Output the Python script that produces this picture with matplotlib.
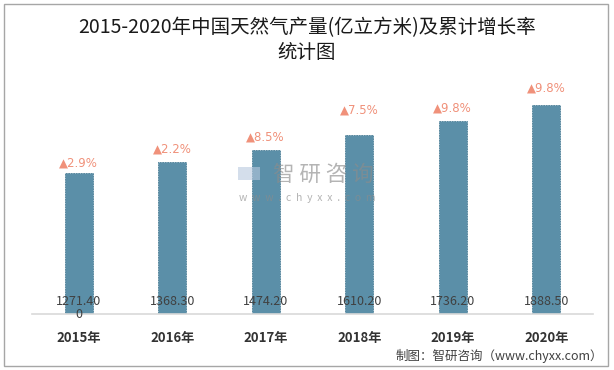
import matplotlib
matplotlib.use("Agg")
import matplotlib.pyplot as plt
from matplotlib.patches import Rectangle

plt.rcParams['font.family'] = ['Noto Sans CJK SC', 'DejaVu Sans']

years = ["2015年", "2016年", "2017年", "2018年", "2019年", "2020年"]
output = [1271.4, 1368.3, 1474.2, 1610.2, 1736.2, 1888.5]
value_labels = ["1271.40\n0", "1368.30", "1474.20", "1610.20", "1736.20", "1888.50"]
growth = ["2.9%", "2.2%", "8.5%", "7.5%", "9.8%", "9.8%"]
# height of growth-label above each bar top (data units)
growth_offsets = [90, 117, 126, 225, 117, 153]

W, H = 614, 370
fig = plt.figure(figsize=(W / 100, H / 100), dpi=100)

# outer border
fig.patches.append(Rectangle((4 / W, 4 / H), 604 / W, 362 / H, transform=fig.transFigure,
                             fill=False, edgecolor='#a6a6a6', linewidth=1.0))

ax_l, ax_r = 32, 593
base_y, top_y = 314, 70
ax = fig.add_axes([ax_l / W, (H - base_y) / H, (ax_r - ax_l) / W, (base_y - top_y) / H])
ax.set_xlim(-0.5, len(years) - 0.5)
ax.set_ylim(0, 2200)
ax.patch.set_alpha(0)
for s in ['top', 'right', 'left']:
    ax.spines[s].set_visible(False)
ax.spines['bottom'].set_color('#d9d9d9')
ax.spines['bottom'].set_linewidth(1.2)
ax.set_yticks([])
ax.set_xticks(range(len(years)))
ax.set_xticklabels(years, fontsize=9.5, fontweight='bold', color='#333333')
ax.tick_params(axis='x', length=0, pad=12)

x = list(range(len(years)))
ax.bar(x, output, width=0.3, color='#5b8fa8', edgecolor='#4d7f97', linewidth=0.6,
       linestyle=(0, (2, 1)), zorder=2)

for i, v in enumerate(output):
    ax.text(i, 171, value_labels[i], ha='center', va='top', fontsize=9, color='#404040',
            linespacing=0.95, zorder=3)
    ax.text(i, v + growth_offsets[i], "▲" + growth[i], ha='center', va='center', fontsize=8.5,
            color='#f0917a', zorder=3, family=['DejaVu Sans'])

# watermark (drawn over the bars, semi-transparent)
fig.patches.append(Rectangle((238 / W, (H - 180) / H), 22 / W, 13 / H, transform=fig.transFigure,
                             facecolor='#b8c8de', edgecolor='none', alpha=0.6, zorder=5))
fig.text(323 / W, (H - 175) / H, "智 研 咨 询", ha='center', va='center', fontsize=15.5,
         color='#8c8c8c', alpha=0.65, zorder=5)
fig.text(307 / W, (H - 198) / H, "w  w  w  .  c  h  y  x  x  .  c  o  m", ha='center',
         va='center', fontsize=7.5, color='#8c8c8c', alpha=0.65, zorder=5)

# title
fig.text(0.5, (H - 28) / H, "2015-2020年中国天然气产量(亿立方米)及累计增长率", ha='center',
         va='center', fontsize=14, fontweight='normal', color='#1a1a1a')
fig.text(0.5, (H - 53) / H, "统计图", ha='center', va='center', fontsize=14,
         fontweight='normal', color='#1a1a1a')

# source
fig.text(603 / W, (H - 356) / H, "制图：智研咨询（www.chyxx.com）", ha='right', va='center',
         fontsize=9, color='#404040')

fig.savefig("out.png", dpi=100)
